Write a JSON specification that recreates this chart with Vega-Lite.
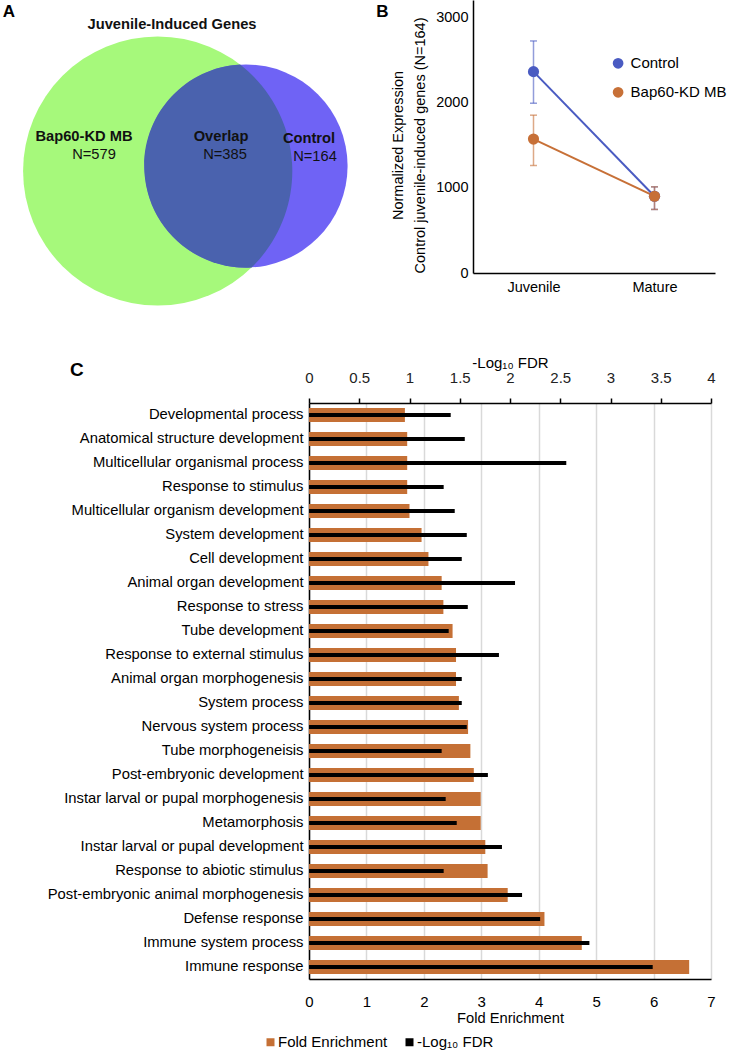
{
  "$schema": "https://vega.github.io/schema/vega-lite/v6.json",
  "padding": 0,
  "background": "white",
  "config": {
    "font": "Liberation Sans",
    "view": {"stroke": null},
    "axis": {"labelColor": "#000", "titleColor": "#000", "domainColor": "#000", "labelFlush": false, "labelOverlap": false},
    "legend": {"labelColor": "#000"}
  },
  "datasets": {
    "venn": [
      {"set": "Bap60-KD MB", "genes": 964, "x": 157.7, "y": 171},
      {"set": "Control", "genes": 549, "x": 246, "y": 166}
    ],
    "vennText": [
      {"kind": "panel", "text": "A", "x": 9, "y": 11.5},
      {"kind": "panel", "text": "B", "x": 382.5, "y": 11.5},
      {"kind": "bold", "text": "Juvenile-Induced Genes", "x": 172, "y": 25},
      {"kind": "bold", "text": "Bap60-KD MB", "x": 84, "y": 137},
      {"kind": "bold", "text": "Overlap", "x": 221, "y": 137},
      {"kind": "bold", "text": "Control", "x": 309, "y": 138.5},
      {"kind": "count", "text": "N=579", "x": 94, "y": 155},
      {"kind": "count", "text": "N=385", "x": 225, "y": 155},
      {"kind": "count", "text": "N=164", "x": 315, "y": 157}
    ],
    "expr": [
      {"stage": "Juvenile", "group": "Control", "mean": 2360, "lo": 1990, "hi": 2720},
      {"stage": "Mature", "group": "Control", "mean": 900, "lo": 745, "hi": 1010},
      {"stage": "Juvenile", "group": "Bap60-KD MB", "mean": 1570, "lo": 1260, "hi": 1850},
      {"stage": "Mature", "group": "Bap60-KD MB", "mean": 900, "lo": 745, "hi": 1010}
    ],
    "go": [
      {"term": "Developmental process", "fold": 1.67, "fdr": 1.41},
      {"term": "Anatomical structure development", "fold": 1.71, "fdr": 1.55},
      {"term": "Multicellular organismal process", "fold": 1.71, "fdr": 2.56},
      {"term": "Response to stimulus", "fold": 1.71, "fdr": 1.34},
      {"term": "Multicellular organism development", "fold": 1.75, "fdr": 1.45},
      {"term": "System development", "fold": 1.96, "fdr": 1.57},
      {"term": "Cell development", "fold": 2.08, "fdr": 1.52},
      {"term": "Animal organ development", "fold": 2.31, "fdr": 2.05},
      {"term": "Response to stress", "fold": 2.34, "fdr": 1.58},
      {"term": "Tube development", "fold": 2.5, "fdr": 1.39},
      {"term": "Response to external stimulus", "fold": 2.56, "fdr": 1.89},
      {"term": "Animal organ morphogenesis", "fold": 2.56, "fdr": 1.52},
      {"term": "System process", "fold": 2.61, "fdr": 1.52},
      {"term": "Nervous system process", "fold": 2.77, "fdr": 1.57},
      {"term": "Tube morphogeneisis", "fold": 2.81, "fdr": 1.32},
      {"term": "Post-embryonic development", "fold": 2.87, "fdr": 1.78},
      {"term": "Instar larval or pupal morphogenesis", "fold": 2.99, "fdr": 1.36},
      {"term": "Metamorphosis", "fold": 2.99, "fdr": 1.47},
      {"term": "Instar larval or pupal development", "fold": 3.07, "fdr": 1.92},
      {"term": "Response to abiotic stimulus", "fold": 3.11, "fdr": 1.34},
      {"term": "Post-embryonic animal morphogenesis", "fold": 3.46, "fdr": 2.12},
      {"term": "Defense response", "fold": 4.1, "fdr": 2.3},
      {"term": "Immune system process", "fold": 4.75, "fdr": 2.79},
      {"term": "Immune response", "fold": 6.62, "fdr": 3.42}
    ]
  },
  "spacing": 45,
  "resolve": {"scale": {"color": "independent", "size": "independent", "stroke": "independent"}, "legend": {"color": "independent", "size": "independent", "stroke": "independent"}},
  "vconcat": [
    {
      "resolve": {"scale": {"color": "independent", "size": "independent", "stroke": "independent"}, "legend": {"color": "independent", "size": "independent", "stroke": "independent"}},
      "hconcat": [
        {
          "width": 344,
          "height": 310,
          "layer": [
            {
              "data": {"name": "venn"},
              "mark": {"type": "point", "shape": "circle", "filled": true, "opacity": 1, "strokeWidth": 0},
              "encoding": {
                "x": {"field": "x", "type": "quantitative", "scale": {"domain": [0, 344], "nice": false, "zero": false}, "axis": null},
                "y": {"field": "y", "type": "quantitative", "scale": {"domain": [0, 310], "nice": false, "zero": false, "reverse": true}, "axis": null},
                "size": {"field": "genes", "type": "quantitative", "scale": {"domain": [0, 1000], "range": [0, 75200], "zero": true}, "legend": null},
                "color": {"field": "set", "type": "nominal", "scale": {"domain": ["Bap60-KD MB", "Control"], "range": ["#A6F97B", "#6F63F5"]}, "legend": null}
              }
            },
            {
              "data": {"name": "venn"},
              "transform": [{"filter": "datum.set === 'Control'"}],
              "mark": {"type": "point", "shape": "M-0.058,-0.998A1,1,0,0,0,0.055,0.999A1.3248,1.3248,0,0,0,-0.058,-0.998Z", "filled": true, "opacity": 1, "strokeWidth": 0, "color": "#4A62AE"},
              "encoding": {
                "x": {"field": "x", "type": "quantitative"},
                "y": {"field": "y", "type": "quantitative"},
                "size": {"field": "genes", "type": "quantitative", "legend": null}
              }
            },
            {
              "data": {"name": "vennText"},
              "transform": [{"filter": "datum.kind === 'panel'"}],
              "mark": {"type": "text", "fontSize": 17, "fontWeight": "bold", "align": "center", "baseline": "middle", "color": "#000"},
              "encoding": {
                "x": {"field": "x", "type": "quantitative"},
                "y": {"field": "y", "type": "quantitative"},
                "text": {"field": "text"}
              }
            },
            {
              "data": {"name": "vennText"},
              "transform": [{"filter": "datum.kind === 'bold'"}],
              "mark": {"type": "text", "fontSize": 14.7, "fontWeight": "bold", "align": "center", "baseline": "middle", "color": "#111"},
              "encoding": {
                "x": {"field": "x", "type": "quantitative"},
                "y": {"field": "y", "type": "quantitative"},
                "text": {"field": "text"}
              }
            },
            {
              "data": {"name": "vennText"},
              "transform": [{"filter": "datum.kind === 'count'"}],
              "mark": {"type": "text", "fontSize": 14.7, "align": "center", "baseline": "middle", "color": "#111"},
              "encoding": {
                "x": {"field": "x", "type": "quantitative"},
                "y": {"field": "y", "type": "quantitative"},
                "text": {"field": "text"}
              }
            }
          ]
        },
        {
          "width": 242,
          "height": 273,
          "data": {"name": "expr"},
          "encoding": {
            "x": {"field": "stage", "type": "ordinal", "scale": {"type": "point", "padding": 0.5},
                  "axis": {"title": null, "labelAngle": 0, "ticks": false, "labelFontSize": 14.5, "labelPadding": 7, "domainWidth": 1.5}}
          },
          "layer": [
            {
              "mark": {"type": "rule", "strokeWidth": 1.5, "opacity": 0.6},
              "encoding": {
                "y": {"field": "lo", "type": "quantitative", "scale": {"domain": [0, 3200], "nice": false},
                      "axis": {"values": [0, 1000, 2000, 3000], "format": "d", "ticks": false, "grid": false, "labelFontSize": 14.5, "labelPadding": 5, "domainWidth": 1.5,
                               "title": ["Normalized Expression", "Control juvenile-induced genes (N=164)"], "titleFontSize": 14.5, "titleFontWeight": "normal", "titleLineHeight": 22, "titleY": 145, "titleX": -68}},
                "y2": {"field": "hi"},
                "stroke": {"field": "group", "type": "nominal", "scale": {"domain": ["Bap60-KD MB", "Control"], "range": ["#C77037", "#4A5BC2"]}, "legend": null}
              }
            },
            {
              "mark": {"type": "rule", "strokeWidth": 1.5, "opacity": 0.6, "xOffset": -3.5, "x2Offset": 3.5},
              "encoding": {
                "x2": {"field": "stage"},
                "y": {"field": "lo", "type": "quantitative"},
                "stroke": {"field": "group", "type": "nominal", "legend": null}
              }
            },
            {
              "mark": {"type": "rule", "strokeWidth": 1.5, "opacity": 0.6, "xOffset": -3.5, "x2Offset": 3.5},
              "encoding": {
                "x2": {"field": "stage"},
                "y": {"field": "hi", "type": "quantitative"},
                "stroke": {"field": "group", "type": "nominal", "legend": null}
              }
            },
            {
              "mark": {"type": "line", "strokeWidth": 2},
              "encoding": {
                "y": {"field": "mean", "type": "quantitative"},
                "stroke": {"field": "group", "type": "nominal", "legend": null}
              }
            },
            {
              "mark": {"type": "point", "filled": true, "opacity": 1, "size": 125},
              "encoding": {
                "y": {"field": "mean", "type": "quantitative"},
                "color": {"field": "group", "type": "nominal", "scale": {"domain": ["Control", "Bap60-KD MB"], "range": ["#4A5BC2", "#C77037"]},
                          "legend": {"orient": "none", "direction": "vertical", "legendX": 137.6, "legendY": 55.8, "title": null, "symbolType": "circle", "symbolSize": 115,
                                     "labelFontSize": 15, "labelOffset": 5, "rowPadding": 13, "padding": 0,
                                     "labelExpr": "datum.label == 'Bap60-KD MB' ? '\u00a0' + datum.label : datum.label"}}
              }
            }
          ]
        }
      ],
      "spacing": 129,
      "bounds": "flush"
    },
    {
      "resolve": {"scale": {"color": "independent", "size": "independent", "stroke": "independent"}, "legend": {"color": "independent", "size": "independent", "stroke": "independent"}},
      "hconcat": [
        {
          "width": 290,
          "height": 10,
          "data": {"values": []},
          "mark": {"type": "point", "opacity": 0},
          "encoding": {}
        },
        {
          "width": 402,
          "height": 576,
          "title": {"text": "C", "anchor": "start", "frame": "group", "fontSize": 19, "fontWeight": "bold", "dx": -239, "dy": 25, "offset": 0, "color": "#000"},
          "data": {"name": "go"},
          "encoding": {
            "y": {"field": "term", "type": "nominal", "sort": null, "scale": {"paddingInner": 0.42, "paddingOuter": 0.21},
                  "axis": {"title": null, "ticks": false, "labelFontSize": 14.8, "labelPadding": 6, "labelLimit": 400, "domainWidth": 1.5}}
          },
          "layer": [
            {
              "mark": {"type": "bar"},
              "encoding": {
                "x": {"field": "fold", "type": "quantitative", "scale": {"domain": [0, 7], "nice": false},
                      "axis": {"orient": "bottom", "title": "Fold Enrichment", "values": [0, 1, 2, 3, 4, 5, 6, 7], "ticks": false, "grid": true, "gridColor": "#D9D9D9", "gridWidth": 1.5,
                               "labelFontSize": 15, "labelPadding": 15, "titleFontSize": 14.7, "titleFontWeight": "normal", "titlePadding": 1, "domainWidth": 1.5}},
                "color": {"datum": "Fold Enrichment", "type": "nominal", "scale": {"domain": ["Fold Enrichment", "-Log₁₀ FDR"], "range": ["#C57035", "#000000"]},
                          "legend": {"orient": "none", "direction": "horizontal", "columns": 2, "legendX": -46, "legendY": 631.5, "title": null, "symbolType": "square", "symbolSize": 64, "symbolStrokeWidth": 0,
                                     "labelFontSize": 15, "labelOffset": 0, "columnPadding": 14, "padding": 0}}
              }
            },
            {
              "mark": {"type": "bar", "height": 4},
              "encoding": {
                "x": {"field": "fdr", "type": "quantitative", "scale": {"domain": [0, 4], "nice": false},
                      "axis": {"orient": "top", "title": "-Log₁₀ FDR", "values": [0, 0.5, 1, 1.5, 2, 2.5, 3, 3.5, 4], "format": "~g", "ticks": true, "tickSize": 5, "tickWidth": 1.5, "tickColor": "#000", "grid": false,
                               "labelFontSize": 15, "labelPadding": 13, "labelColor": "#222", "titleFontSize": 15, "titleFontWeight": "normal", "titlePadding": 0, "domainWidth": 1.5}},
                "color": {"datum": "-Log₁₀ FDR", "type": "nominal"}
              }
            }
          ],
          "resolve": {"scale": {"x": "independent"}, "axis": {"x": "independent"}}
        }
      ],
      "spacing": 19,
      "bounds": "flush"
    }
  ]
}
